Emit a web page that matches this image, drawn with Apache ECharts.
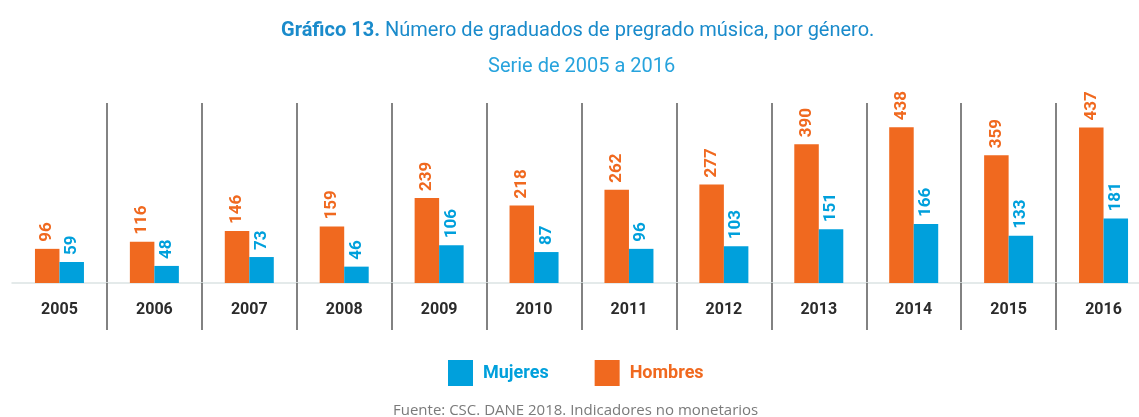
<!DOCTYPE html>
<html>
<head>
<meta charset="utf-8">
<script src="https://cdn.jsdelivr.net/npm/echarts@6/dist/echarts.min.js"></script>
<style>
  html, body { margin: 0; padding: 0; background: #fff; }
  #chart { width: 1139px; height: 417px; }
</style>
</head>
<body>
<div id="chart"></div>
<script>
var years = ['2005', '2006', '2007', '2008', '2009', '2010', '2011', '2012', '2013', '2014', '2015', '2016']
var hombres = [96, 116, 146, 159, 239, 218, 262, 277, 390, 438, 359, 437]
var mujeres = [59, 48, 73, 46, 106, 87, 96, 103, 151, 166, 133, 181]

var orange = '#f0691f'
var blue = '#00a0dc'

var chart = echarts.init(document.getElementById('chart'))

function barLabel(color) {
  return {
    show: true,
    position: 'top',
    rotate: 90,
    align: 'left',
    verticalAlign: 'middle',
    distance: 7,
    color: color,
    fontFamily: 'Roboto',
    fontWeight: 'bold',
    fontSize: 17
  }
}

// separators between years: skip the left edge of the first one
function skipFirst(i) { return i > 0 }

chart.setOption({
  animation: false,
  title: [
    {
      left: 276,
      top: 16,
      text: '{b|Gráfico 13.} {r|Número de graduados de pregrado música, por género.}',
      textStyle: {
        rich: {
          b: { fontFamily: 'Roboto', fontWeight: 'bold', fontSize: 20, color: '#1a8bcb' },
          r: { fontFamily: 'Roboto', fontWeight: 'normal', fontSize: 20, color: '#1a8bcb' }
        }
      }
    },
    {
      left: 483,
      top: 52,
      text: 'Serie de 2005 a 2016',
      textStyle: { fontFamily: 'Roboto', fontWeight: 'normal', fontSize: 20, color: '#27a3dd' }
    },
    {
      left: 388,
      top: 398,
      text: 'Fuente: CSC. DANE 2018. Indicadores no monetarios',
      textStyle: { fontFamily: 'Open Sans', fontWeight: 'normal', fontSize: 15, color: '#7a7a7a' }
    }
  ],
  legend: {
    left: 443,
    top: 355,
    itemWidth: 25,
    itemHeight: 26,
    itemGap: 46,
    icon: 'rect',
    textStyle: { fontFamily: 'Roboto', fontWeight: 'bold', fontSize: 18, padding: [0, 0, 0, 5] },
    data: [
      { name: 'Mujeres', textStyle: { color: blue } },
      { name: 'Hombres', textStyle: { color: orange } }
    ]
  },
  grid: { left: 12, width: 1139, top: 103, bottom: 134, outerBoundsMode: 'none' },
  xAxis: {
    type: 'category',
    data: years,
    axisLine: { lineStyle: { color: '#dce4e4', width: 1.5 } },
    axisTick: {
      show: true,
      length: 47,
      interval: skipFirst,
      lineStyle: { color: '#5a5a5a', width: 1.5 }
    },
    axisLabel: { margin: 19, color: '#2b2b2b', fontFamily: 'Roboto', fontWeight: 'bold', fontSize: 16 },
    splitLine: {
      show: true,
      interval: skipFirst,
      lineStyle: { color: '#5a5a5a', width: 1.5 }
    }
  },
  yAxis: {
    type: 'value',
    min: 0,
    max: 506,
    show: false,
    splitLine: { show: false }
  },
  series: [
    {
      name: 'Hombres',
      type: 'bar',
      data: hombres,
      barWidth: 24.5,
      barGap: '0%',
      itemStyle: { color: orange },
      label: barLabel(orange)
    },
    {
      name: 'Mujeres',
      type: 'bar',
      data: mujeres,
      barWidth: 24.5,
      barGap: '0%',
      itemStyle: { color: blue },
      label: barLabel(blue)
    }
  ]
})
</script>
</body>
</html>
